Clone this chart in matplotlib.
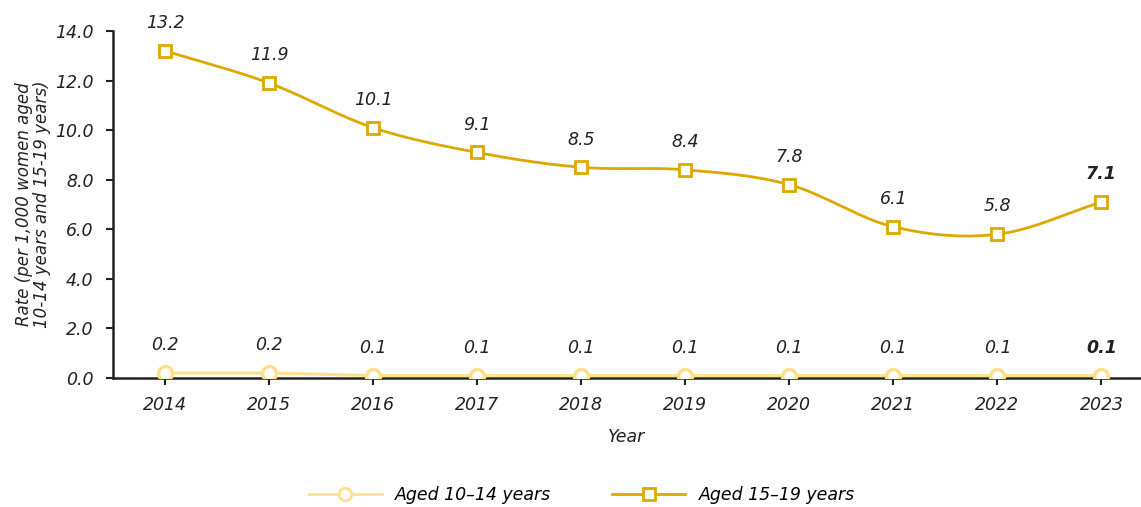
import numpy as np
import matplotlib
matplotlib.use('Agg')
import matplotlib.pyplot as plt

# Data
years = ['2014', '2015', '2016', '2017', '2018', '2019', '2020', '2021', '2022', '2023']
aged_10_14 = [0.2, 0.2, 0.1, 0.1, 0.1, 0.1, 0.1, 0.1, 0.1, 0.1]
aged_15_19 = [13.2, 11.9, 10.1, 9.1, 8.5, 8.4, 7.8, 6.1, 5.8, 7.1]

light = '#FFE08C'
dark = '#DDA800'

plt.rcParams['font.family'] = ['DejaVu Sans']


def smooth(xs, ys, n=30):
    # Catmull-Rom curve through the points, like a spreadsheet "smoothed line"
    xs = np.asarray(xs, float)
    ys = np.asarray(ys, float)
    px = np.concatenate([[2 * xs[0] - xs[1]], xs, [2 * xs[-1] - xs[-2]]])
    py = np.concatenate([[2 * ys[0] - ys[1]], ys, [2 * ys[-1] - ys[-2]]])
    out_x, out_y = [], []
    t = np.linspace(0, 1, n)
    for i in range(1, len(px) - 2):
        for p, o in ((px, out_x), (py, out_y)):
            p0, p1, p2, p3 = p[i - 1], p[i], p[i + 1], p[i + 2]
            o.extend(0.5 * (2 * p1 + (-p0 + p2) * t
                            + (2 * p0 - 5 * p1 + 4 * p2 - p3) * t ** 2
                            + (-p0 + 3 * p1 - 3 * p2 + p3) * t ** 3))
    return out_x, out_y


x = np.arange(len(years))

fig = plt.figure(figsize=(11.41, 5.07), dpi=100)
ax = fig.add_axes([113 / 1141, 129 / 507, 1028 / 1141, 347 / 507])

sx, sy = smooth(x, aged_15_19)
ax.plot(sx, sy, color=dark, lw=2, zorder=3)
ax.plot(x, aged_15_19, ls='none', marker='s', ms=9, mfc='white', mec=dark, mew=2, zorder=4)
ax.plot(x, aged_10_14, color=light, lw=2.2, marker='o', ms=10, mfc='white',
        mec=light, mew=2.5, zorder=3)

# legend proxies
h1, = ax.plot([], [], color=light, lw=2, marker='o', ms=9, mfc='white', mec=light, mew=2)
h2, = ax.plot([], [], color=dark, lw=2, marker='s', ms=9, mfc='white', mec=dark, mew=2)

for i, (a, b) in enumerate(zip(aged_10_14, aged_15_19)):
    w = 'bold' if i == len(years) - 1 else 'normal'
    ax.annotate(f'{a:.1f}', (x[i], a), xytext=(0, 20), textcoords='offset points',
                ha='center', va='center', fontsize=12.5, style='italic', weight=w,
                color='#222222')
    ax.annotate(f'{b:.1f}', (x[i], b), xytext=(0, 20), textcoords='offset points',
                ha='center', va='center', fontsize=12.5, style='italic', weight=w,
                color='#222222')

ax.set_xlim(-0.5, 9.38)
ax.set_ylim(0, 14)
ax.set_yticks(np.arange(0, 14.1, 2))
ax.set_yticklabels([f'{v:.1f}' for v in np.arange(0, 14.1, 2)])
ax.set_xticks(x)
ax.set_xticklabels(years)
for lab in ax.get_xticklabels() + ax.get_yticklabels():
    lab.set_fontstyle('italic')
    lab.set_fontsize(12.5)
    lab.set_color('#222222')
ax.tick_params(axis='both', length=5, width=1.5, color='#222222')
ax.tick_params(axis='x', pad=8)
ax.tick_params(axis='y', pad=9)

for s in ['top', 'right']:
    ax.spines[s].set_visible(False)
for s in ['left', 'bottom']:
    ax.spines[s].set_linewidth(1.8)
    ax.spines[s].set_color('#222222')

ax.set_xlabel('Year', fontsize=12.5, style='italic', color='#222222', labelpad=10)
ax.set_ylabel('Rate (per 1,000 women aged\n10-14 years and 15-19 years)', fontsize=12,
              style='italic', color='#222222', labelpad=3, linespacing=1.0)

fig.legend([h1, h2], ['Aged 10\u201314 years', 'Aged 15\u201319 years'], loc='center',
           bbox_to_anchor=(0.51, 12 / 507), ncol=2, frameon=False, handlelength=4.2,
           columnspacing=3.5, prop={'size': 12.5, 'style': 'italic'})

fig.savefig('out.png', dpi=100)
